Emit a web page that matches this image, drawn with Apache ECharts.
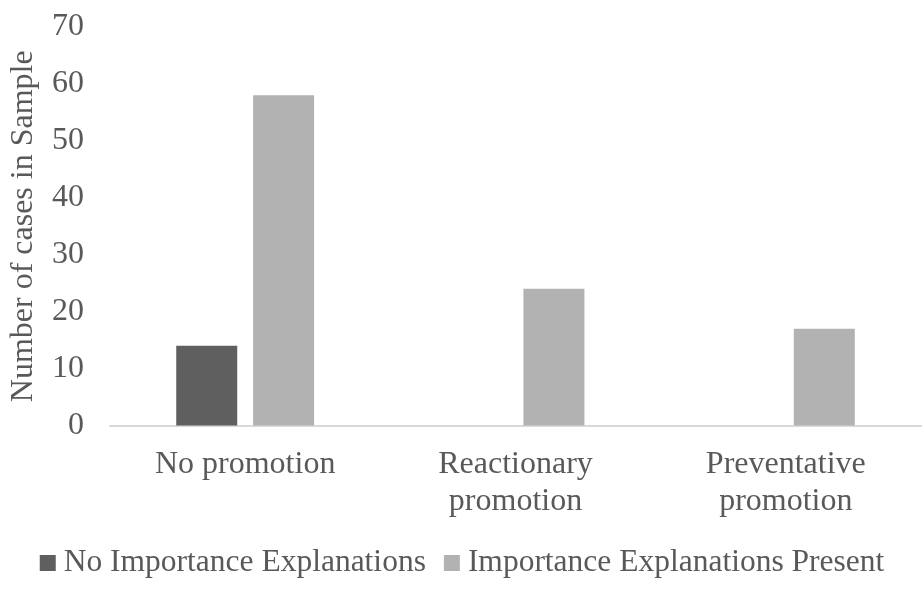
<!DOCTYPE html>
<html>
<head>
<meta charset="utf-8">
<script src="https://cdn.jsdelivr.net/npm/echarts@6/dist/echarts.min.js"></script>
<style>
  html, body { margin: 0; padding: 0; background: #fff; }
  #chart { width: 924px; height: 592px; }
</style>
</head>
<body>
<div id="chart"></div>
<script>
// Promotion type categories (x axis)
const categories = ['No promotion', 'Reactionary\npromotion', 'Preventative\npromotion'];
// Case counts per series
const noImportance = [14, 0, 0];
const importancePresent = [58, 24, 17];
const seriesNames = ['No Importance Explanations', 'Importance Explanations Present'];
const yTicks = { min: 0, max: 70, interval: 10 };

const FONT = "'Liberation Serif', 'Times New Roman', serif";
const TEXT = '#595959';
const SIZE = 32;

const chart = echarts.init(document.getElementById('chart'), null, { renderer: 'canvas' });
chart.setOption({
  animation: false,
  backgroundColor: '#ffffff',
  grid: { left: 106, right: 3, top: 27, bottom: 166.5, containLabel: false },
  legend: {
    data: seriesNames,
    left: 'center',
    top: 542,
    icon: 'rect',
    itemWidth: 16,
    itemHeight: 16,
    itemGap: 18,
    textStyle: { fontFamily: FONT, fontSize: 31.5, color: TEXT, padding: [0, 0, 0, 3] }
  },
  xAxis: {
    type: 'category',
    data: categories,
    axisLine: { show: true, lineStyle: { color: '#d9d9d9', width: 2 } },
    axisTick: { show: false },
    axisLabel: {
      fontFamily: FONT, fontSize: SIZE, color: TEXT, lineHeight: 37, margin: 21, interval: 0
    },
    splitLine: { show: false }
  },
  yAxis: {
    type: 'value',
    min: yTicks.min,
    max: yTicks.max,
    interval: yTicks.interval,
    name: 'Number of cases in Sample',
    nameLocation: 'middle',
    nameGap: 70,
    nameTextStyle: { fontFamily: FONT, fontSize: SIZE, color: TEXT },
    axisLine: { show: false },
    axisTick: { show: false },
    splitLine: { show: false },
    axisLabel: { fontFamily: FONT, fontSize: SIZE, color: TEXT, margin: 26 }
  },
  series: [
    {
      name: seriesNames[0],
      type: 'bar',
      data: noImportance,
      barWidth: 61,
      barGap: '26%',
      itemStyle: { color: '#5f5f5f' }
    },
    {
      name: seriesNames[1],
      type: 'bar',
      data: importancePresent,
      barWidth: 61,
      itemStyle: { color: '#b2b2b2' }
    }
  ]
});
</script>
</body>
</html>
